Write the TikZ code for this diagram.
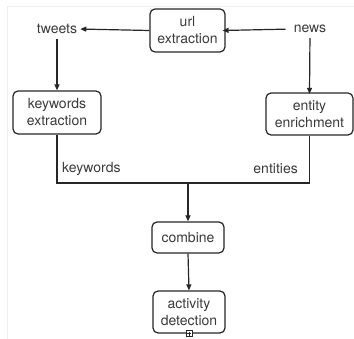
\documentclass[tikz,border=0pt]{standalone}
\usepackage{fontspec}
\setmainfont{TeX Gyre Heros}
\usetikzlibrary{arrows.meta}
\definecolor{txt}{HTML}{3A3A3A}
\definecolor{frame}{HTML}{EEEEEE}
\begin{document}
\begin{tikzpicture}[x=1pt,y=-1pt,
  box/.style={draw=black!85,line width=1.2pt,rounded corners=5pt,align=center,
    font=\fontsize{14}{17}\selectfont,text=txt,inner sep=0pt},
  lbl/.style={font=\fontsize{14}{17}\selectfont,text=txt,inner sep=1pt},
  conn/.style={draw=black!85,line width=1.2pt},
  arr/.style={conn,-{Triangle[length=6pt,width=5pt]}}]
\useasboundingbox (0,0) rectangle (354,339);
\draw[frame,line width=0.8pt] (7,339) -- (7,6) -- (354,6);
\node[box,minimum width=75pt,minimum height=43pt] (url) at (187.5,30.5) {url\\extraction};
\node[lbl] (tweets) at (57,29) {tweets};
\node[lbl] (news) at (310,29) {news};
\node[box,minimum width=88pt,minimum height=43pt] (kw) at (57,112.5) {keywords\\extraction};
\node[box,minimum width=87pt,minimum height=42pt] (ent) at (309.5,114) {entity\\enrichment};
\node[box,minimum width=72pt,minimum height=31pt] (comb) at (188,237.5) {combine};
\node[box,minimum width=72pt,minimum height=42pt] (act) at (189,312) {activity\\detection};
\coordinate (j) at (188,183);
\draw[arr,shorten >=2pt] (url.west) -- (tweets.east);
\draw[arr,shorten <=7pt] (news.west) -- ([xshift=-3pt]url.east);
\draw[arr,shorten <=4pt] (tweets.south) -- (kw.north);
\draw[arr,shorten <=4pt] (news.south) -- ([yshift=-1.5pt]ent.north);
\draw[conn] (kw.south) -- (kw.south |- j) -- (ent.south |- j) -- (ent.south);
\draw[arr] (j) -- (comb.north);
\draw[arr] (comb.south) -- (act.north);
\node[lbl,anchor=west] (kwl) at (61,169) {keywords};
\node[lbl,anchor=east] (entl) at (299,169) {entities};
\node[draw=black!85,line width=0.5pt,fill=white,minimum size=6pt,inner sep=0pt] (plus) at (act.south) {};
\draw[black!85,line width=0.5pt] ([xshift=-2pt]plus.center) -- ([xshift=2pt]plus.center)
  ([yshift=-2pt]plus.center) -- ([yshift=2pt]plus.center);
\end{tikzpicture}
\end{document}
